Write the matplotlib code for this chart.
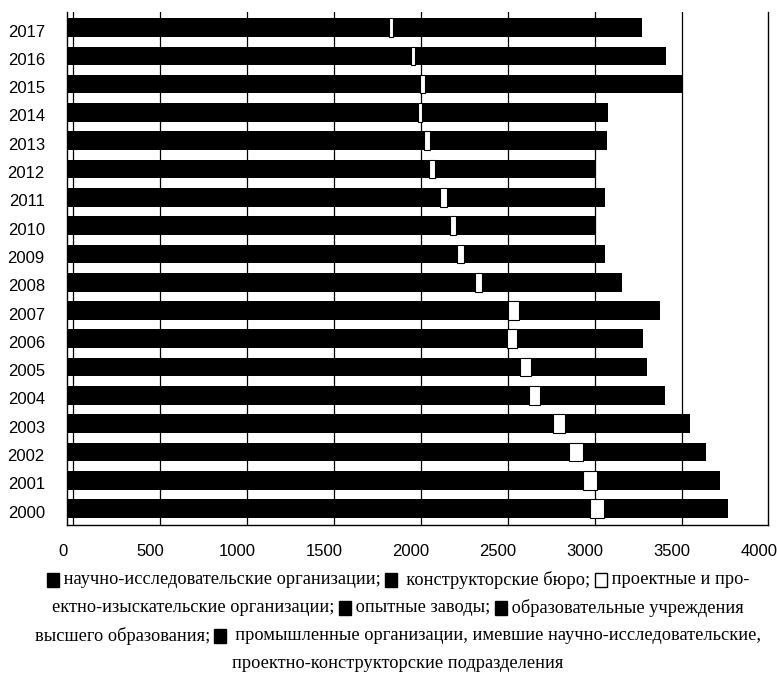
import matplotlib
matplotlib.use("Agg")
import matplotlib.pyplot as plt
import matplotlib.transforms as mtransforms
from matplotlib.patches import Rectangle
from matplotlib.lines import Line2D
import numpy as np

years = ["2000", "2001", "2002", "2003", "2004", "2005", "2006", "2007", "2008",
         "2009", "2010", "2011", "2012", "2013", "2014", "2015", "2016", "2017"]
research_orgs = [2686, 2676, 2630, 2564, 2464, 2115, 2049, 2036, 1926,
                 1878, 1840, 1782, 1744, 1719, 1689, 1708, 1673, 1577]
design_bureaus = [318, 289, 257, 228, 194, 489, 482, 497, 418,
                  362, 362, 364, 339, 332, 326, 322, 304, 273]
project_orgs = [85, 81, 76, 68, 63, 61, 58, 62, 42,
                42, 36, 38, 33, 35, 28, 26, 25, 22]
pilot_plants = [33, 31, 29, 31, 31, 30, 49, 49, 60,
                57, 47, 49, 50, 58, 58, 67, 65, 62]
universities = [390, 388, 390, 393, 402, 406, 417, 500, 503,
                506, 517, 581, 560, 637, 702, 1040, 979, 969]
industrial = [284, 288, 292, 298, 285, 231, 255, 265, 239,
              245, 238, 279, 309, 321, 307, 371, 395, 399]
xticks = [0, 500, 1000, 1500, 2000, 2500, 3000, 3500, 4000]

series = [research_orgs, design_bureaus, project_orgs, pilot_plants, universities, industrial]
colors = ["black", "black", "white", "black", "black", "black"]

W, H = 777, 674
DPI = 100
fig = plt.figure(figsize=(W / DPI, H / DPI), dpi=DPI)
x0_px, x4000_px = 67, 763
xmax = 4000 * (768 - x0_px) / (x4000_px - x0_px)
scale = (x4000_px - x0_px) / 4000.0
ax_w = xmax * scale
top_px, bot_px = 12, 525
ax = fig.add_axes([x0_px / W, (H - bot_px) / H, ax_w / W, (bot_px - top_px) / H])

y = np.arange(len(years))
left = np.zeros(len(years))
for vals, c in zip(series, colors):
    v = np.array(vals, dtype=float)
    ax.barh(y, v, left=left, height=0.66, color=c,
            edgecolor="black", linewidth=0.8 if c == "white" else 0, zorder=3)
    left += v

ax.set_xlim(0, xmax)
ax.set_ylim(-0.58, len(years) - 0.45)
ax.set_xticks(xticks)
ax.set_xticklabels([str(t) for t in xticks], fontsize=12, family="Liberation Sans")
ax.set_yticks(y)
ax.set_yticklabels(years, fontsize=12, family="Liberation Sans")
ax.tick_params(axis="both", length=0)
ax.tick_params(axis="y", pad=16)
ax.tick_params(axis="x", pad=14)
# front-plane labels sit slightly left of / below the bars' plane
off_left = mtransforms.ScaledTranslation(-4 / DPI, 0, fig.dpi_scale_trans)
for lab in ax.get_xticklabels():
    lab.set_transform(lab.get_transform() + off_left)
off_down = mtransforms.ScaledTranslation(0, -3 / DPI, fig.dpi_scale_trans)
for lab in ax.get_yticklabels():
    lab.set_transform(lab.get_transform() + off_down)
# back-plane gridlines slightly right
off_right = mtransforms.ScaledTranslation(6 / DPI, 0, fig.dpi_scale_trans)
gtrans = ax.get_xaxis_transform() + off_right
for t in xticks[:-1]:
    ax.add_line(Line2D([t, t], [0, 1], color="black", linewidth=0.9, zorder=1,
                       transform=gtrans))
ax.spines["top"].set_visible(False)
for s in ["left", "bottom", "right"]:
    ax.spines[s].set_linewidth(1.0)
    ax.spines[s].set_color("black")

# legend text (caption) with square markers
fam = ["Liberation Serif", "DejaVu Sans"]
fs = 13.2
lines = [
    [("sq", "black"), " научно-исследовательские организации; ", ("sq", "black"),
     "  конструкторские бюро; ", ("sq", "white"), " проектные и про-"],
    ["ектно-изыскательские организации; ", ("sq", "black"), " опытные заводы; ",
     ("sq", "black"), " образовательные учреждения"],
    ["высшего образования; ", ("sq", "black"),
     "  промышленные организации, имевшие научно-исследовательские,"],
    ["проектно-конструкторские подразделения"],
]
ys = [580, 608, 636, 663]
sq_w, sq_h = 12, 14
fig.canvas.draw()
renderer = fig.canvas.get_renderer()


def text_width(s):
    t = fig.text(0, 0, s.replace(" ", "\u00a0"), fontsize=fs, family=fam)
    w = t.get_window_extent(renderer).width
    t.remove()
    return w


for segs, yy in zip(lines, ys):
    widths = []
    for s in segs:
        widths.append(sq_w if isinstance(s, tuple) else text_width(s))
    total = sum(widths)
    x = 398 - total / 2
    for s, w in zip(segs, widths):
        if isinstance(s, tuple):
            fig.patches.append(Rectangle((x / W, 1 - (yy + sq_h / 2) / H), sq_w / W, sq_h / H,
                                         transform=fig.transFigure, facecolor=s[1],
                                         edgecolor="black", linewidth=1.0))
        else:
            fig.text(x / W, 1 - yy / H, s.replace(" ", "\u00a0"), ha="left", va="center",
                     fontsize=fs, family=fam)
        x += w

fig.savefig("out.png", dpi=DPI)
